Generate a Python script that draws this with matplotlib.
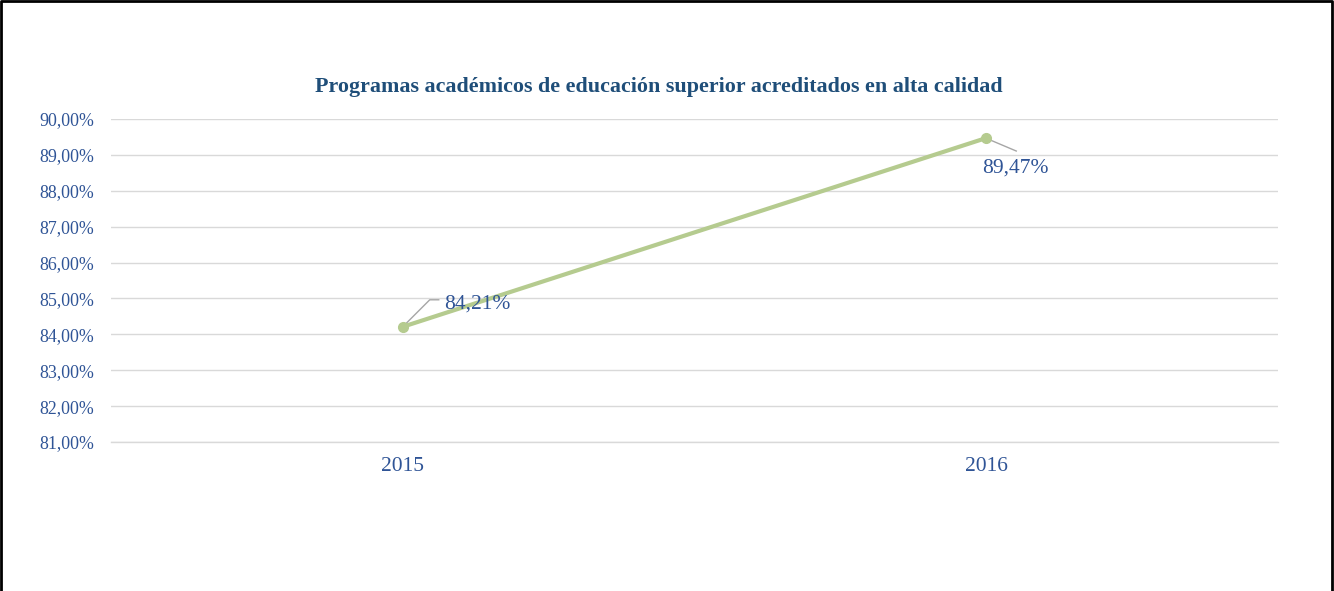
import matplotlib.pyplot as plt
from matplotlib.lines import Line2D

years = ['2015', '2016']
values = [84.21, 89.47]
yticks = [81, 82, 83, 84, 85, 86, 87, 88, 89, 90]
title = 'Programas académicos de educación superior acreditados en alta calidad'

text_color = '#2F5496'
title_color = '#1F4E79'
line_color = '#B5CB8F'
grid_color = '#D9D9D9'

plt.rcParams['font.family'] = ['Liberation Serif', 'DejaVu Serif']

fig = plt.figure(figsize=(13.34, 5.91), dpi=100)
ax = fig.add_axes([111 / 1334, 1 - 442 / 591, 1167 / 1334, 323 / 591])

x = list(range(len(years)))
ax.plot(x, values, color=line_color, linewidth=3, marker='o', markersize=7,
        solid_capstyle='round', zorder=3)

ax.set_xlim(-0.5, len(years) - 0.5)
ax.set_ylim(yticks[0], yticks[-1])
ax.set_yticks(yticks)
ax.set_yticklabels([f'{v:.2f}%'.replace('.', ',') for v in yticks],
                   fontsize=12.9, color=text_color)
ax.set_xticks(x)
ax.set_xticklabels(years, fontsize=15.5, color=text_color)
ax.tick_params(axis='both', length=0)
ax.tick_params(axis='y', pad=12)
ax.tick_params(axis='x', pad=11)
ax.grid(axis='y', color=grid_color, linewidth=1)
ax.set_axisbelow(True)
for s in ax.spines.values():
    s.set_visible(False)
ax.axhline(yticks[0], color=grid_color, linewidth=1, zorder=1, clip_on=False)

# data labels with leader lines (offsets in pixels)
label_specs = [
    ([(2, 2), (27, 27), (36, 27)], (41, 23), 'left', 'center'),
    ([(4, -2), (30, -13)], (29, -30), 'center', 'center'),
]
for xi, v, (path, toff, ha, va) in zip(x, values, label_specs):
    pts = [ax.transData.transform((xi, v)) + [dx, dy] for dx, dy in path]
    ax.add_line(Line2D([p[0] for p in pts], [p[1] for p in pts],
                       transform=None, color='#A6A6A6', linewidth=1, zorder=2))
    ax.annotate(f'{v:.2f}%'.replace('.', ','), (xi, v), xytext=toff,
                textcoords='offset pixels', ha=ha, va=va,
                fontsize=15.5, color=text_color, zorder=4)

fig.text(659 / 1334, 1 - 87 / 591, title, ha='center', va='center',
         fontsize=15.8, fontweight='bold', color=title_color)

# chart border (top, left, right)
fig.add_artist(Line2D([0.001, 0.001, 0.9985, 0.9985], [0, 0.998, 0.998, 0],
                      transform=fig.transFigure, color='black', linewidth=2))

fig.savefig('out.png', dpi=100)
